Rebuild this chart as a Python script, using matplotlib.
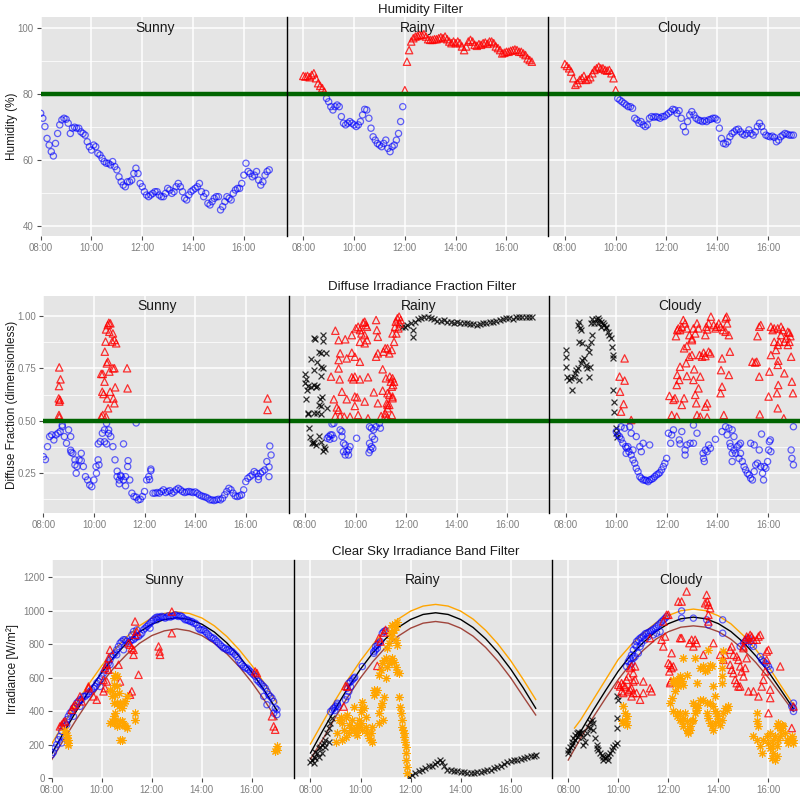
import numpy as np
import matplotlib
matplotlib.use('Agg')
import matplotlib.pyplot as plt

plt.rcParams['font.family'] = ['Liberation Sans', 'DejaVu Sans']

# ---------------------------------------------------------------- categories
days = ['Sunny', 'Rainy', 'Cloudy']
hour_ticks = [8, 10, 12, 14, 16]
hour_labels = ['08:00', '10:00', '12:00', '14:00', '16:00']
row_titles = ['Humidity Filter', 'Diffuse Irradiance Fraction Filter',
              'Clear Sky Irradiance Band Filter']
y_labels = ['Humidity (%)', 'Diffuse Fraction (dimensionless)', 'Irradiance [W/m²]']

# ---------------------------------------------------------------- humidity (5-min samples 08:00-17:00)
t5 = 8 + np.arange(109) * 5 / 60
hum_sunny = [74.2, 72.7, 70.2, 66.6, 64.6, 62.6, 61.3, 65.1, 68.1, 70.7, 72.2, 72.7,
             72.4, 71.2, 68.1, 69.7, 70.0, 69.7, 69.7, 68.6, 68.1, 67.6, 65.6, 64.1,
             63.1, 64.6, 64.1, 62.1, 61.6, 60.6, 59.6, 59.1, 59.1, 58.6, 59.6, 58.1,
             57.1, 55.0, 53.5, 52.5, 52.0, 53.5, 53.5, 54.0, 56.0, 57.6, 56.0, 53.0,
             52.0, 50.5, 49.5, 49.0, 49.5, 50.0, 50.5, 50.5, 49.5, 49.0, 49.0, 50.0,
             51.5, 51.0, 50.0, 50.5, 52.0, 53.0, 52.0, 50.5, 48.5, 48.0, 49.5, 50.5,
             51.0, 51.5, 52.0, 53.0, 50.5, 49.0, 50.0, 47.0, 46.5, 47.5, 48.5, 49.0,
             49.0, 45.0, 46.0, 47.5, 49.0, 48.5, 48.0, 50.0, 51.0, 51.5, 51.5, 53.0,
             55.5, 59.1, 56.6, 56.0, 55.0, 55.5, 56.6, 54.0, 52.5, 53.5, 55.5, 56.6,
             57.1]
hum_rainy = [85.5, 85.3, 85.5, 85.1, 85.8, 86.3, 84.8, 83.3, 82.5, 81.8, 80.7, 78.7,
             77.7, 76.2, 75.2, 76.2, 76.7, 76.2, 73.2, 71.2, 70.7, 71.2, 71.7, 71.2,
             70.7, 70.2, 70.7, 71.7, 73.7, 75.4, 75.2, 72.7, 69.7, 67.1, 66.1, 65.1,
             64.6, 64.1, 65.1, 66.1, 63.6, 62.6, 64.1, 64.6, 66.1, 68.1, 71.7, 76.2,
             81.2, 89.8, 93.3, 95.9, 96.9, 97.4, 97.6, 97.9, 97.9, 98.1, 97.4, 96.6,
             96.4, 96.4, 96.6, 96.6, 96.9, 97.2, 96.9, 97.4, 96.6, 95.9, 95.4, 95.9,
             95.4, 95.9, 95.4, 94.4, 93.3, 94.4, 95.9, 96.4, 95.9, 94.9, 94.6, 95.1,
             94.9, 95.4, 95.6, 95.2, 95.9, 95.9, 95.4, 94.4, 93.9, 93.3, 92.3, 92.5,
             92.8, 92.8, 93.1, 93.3, 93.5, 93.3, 92.8, 92.8, 92.3, 91.8, 90.8, 90.3,
             89.8]
hum_cloudy = [89.1, 88.5, 87.8, 86.8, 84.8, 82.8, 83.3, 84.3, 84.8, 85.5, 84.3, 84.5,
              85.1, 86.3, 87.3, 87.8, 88.3, 87.8, 87.8, 87.3, 87.1, 87.3, 86.3, 84.8,
              81.2, 78.7, 78.2, 77.7, 77.2, 76.7, 76.2, 76.2, 75.7, 72.7, 72.2, 71.2,
              71.7, 70.7, 70.2, 70.7, 72.7, 73.2, 73.0, 73.2, 73.0, 72.7, 73.2, 73.2,
              73.7, 74.2, 74.7, 75.4, 75.2, 74.2, 75.0, 72.7, 70.2, 68.6, 71.7, 73.7,
              74.7, 73.7, 72.7, 72.2, 72.0, 71.7, 72.0, 71.7, 72.2, 72.4, 72.7, 72.7,
              72.2, 69.7, 66.6, 65.1, 64.9, 65.6, 67.1, 68.1, 68.6, 69.2, 69.4, 68.6,
              67.9, 67.6, 68.1, 69.2, 68.1, 67.6, 68.6, 70.2, 71.2, 70.2, 68.6, 67.6,
              67.3, 67.1, 67.3, 66.9, 65.6, 66.1, 67.1, 67.6, 68.1, 67.9, 67.6, 67.6,
              67.6]
hum_limit = 80

# ---------------------------------------------------------------- diffuse fraction
df_sunny_blue = [0.329, 0.315, 0.377, 0.425, 0.433, 0.409, 0.433, 0.441, 0.449, 0.472, 0.425, 0.393,
                 0.457, 0.425, 0.345, 0.314, 0.282, 0.314, 0.345, 0.282, 0.234, 0.218, 0.194, 0.186,
                 0.218, 0.282, 0.314, 0.401, 0.441, 0.457, 0.488, 0.457, 0.425, 0.377, 0.314, 0.234,
                 0.218, 0.234, 0.218, 0.234, 0.282, 0.218, 0.155, 0.139, 0.136, 0.123, 0.126, 0.139,
                 0.163, 0.218, 0.234, 0.262, 0.155, 0.155, 0.158, 0.155, 0.163, 0.171, 0.158, 0.163,
                 0.167, 0.155, 0.161, 0.171, 0.178, 0.171, 0.163, 0.158, 0.161, 0.163, 0.161, 0.158,
                 0.161, 0.155, 0.147, 0.142, 0.139, 0.136, 0.131, 0.123, 0.123, 0.120, 0.123, 0.126,
                 0.123, 0.131, 0.147, 0.163, 0.178, 0.171, 0.155, 0.142, 0.139, 0.142, 0.147, 0.171,
                 0.210, 0.226, 0.234, 0.242, 0.258, 0.250, 0.234, 0.250, 0.258, 0.266, 0.306, 0.234,
                 0.337]
df_sunny_blue_extra = [(8.75, 0.48), (9.08, 0.36), (9.25, 0.29), (9.5, 0.31), (10.17, 0.39),
                       (10.42, 0.40), (10.58, 0.44), (10.92, 0.26), (11.0, 0.20), (11.17, 0.39),
                       (11.25, 0.19), (11.67, 0.49), (12.25, 0.27), (16.95, 0.38), (16.92, 0.28),
                       (16.5, 0.22), (9.1, 0.35), (9.3, 0.25), (10.1, 0.25), (10.2, 0.29),
                       (10.5, 0.39), (11.05, 0.24), (11.35, 0.31), (12.2, 0.22)]
df_sunny_red = [(8.63, 0.755), (8.68, 0.698), (8.62, 0.666), (8.61, 0.607), (8.63, 0.592),
                (8.66, 0.600), (8.62, 0.528), (8.63, 0.517), (10.29, 0.724), (10.35, 0.724),
                (10.33, 0.639), (10.38, 0.628), (10.42, 0.687), (10.43, 0.830), (10.46, 0.878),
                (10.48, 0.936), (10.55, 0.957), (10.59, 0.968), (10.65, 0.965), (10.61, 0.925),
                (10.52, 0.607), (10.48, 0.520), (10.29, 0.520), (10.35, 0.528), (10.55, 0.782),
                (10.51, 0.774), (10.61, 0.735), (10.64, 0.639), (10.56, 0.560), (10.75, 0.917),
                (10.72, 0.878), (10.81, 0.886), (10.88, 0.870), (10.75, 0.751), (10.81, 0.751),
                (10.77, 0.607), (10.81, 0.584), (10.84, 0.660), (11.31, 0.751), (11.33, 0.655),
                (16.86, 0.607), (16.86, 0.552)]

df_rainy_black = [(8.36, 0.893), (8.40, 0.889), (8.71, 0.909), (8.71, 0.882), (8.55, 0.829),
                  (8.62, 0.825), (8.85, 0.822), (8.23, 0.793), (8.49, 0.782), (8.36, 0.742),
                  (8.62, 0.755), (8.71, 0.750), (8.65, 0.714), (8.00, 0.722), (8.04, 0.698),
                  (8.00, 0.679), (8.10, 0.666), (8.23, 0.663), (8.36, 0.671), (8.43, 0.660),
                  (8.49, 0.666), (8.08, 0.647), (8.68, 0.612), (8.59, 0.603), (8.04, 0.603),
                  (8.55, 0.576), (8.62, 0.571), (8.88, 0.560), (8.13, 0.539), (8.13, 0.531),
                  (8.34, 0.536), (8.49, 0.536), (8.62, 0.533), (8.17, 0.465), (8.21, 0.425),
                  (8.30, 0.401), (8.36, 0.393), (8.43, 0.385), (8.55, 0.428), (8.62, 0.401),
                  (8.75, 0.377), (8.81, 0.364), (8.72, 0.358), (8.26, 0.396),
                  (11.85, 0.950), (11.95, 0.950), (12.05, 0.957), (12.20, 0.965), (12.33, 0.973),
                  (12.45, 0.984), (12.58, 0.989), (12.72, 0.997), (12.85, 0.994), (12.98, 0.989),
                  (13.10, 0.984), (13.23, 0.978), (13.36, 0.978), (13.49, 0.981), (13.62, 0.973),
                  (13.75, 0.973), (13.88, 0.968), (14.01, 0.970), (14.14, 0.968), (14.27, 0.965),
                  (14.40, 0.965), (14.52, 0.962), (14.65, 0.960), (14.78, 0.957), (14.91, 0.960),
                  (15.04, 0.965), (15.17, 0.968), (15.30, 0.973), (15.43, 0.973), (15.56, 0.978),
                  (15.69, 0.981), (15.82, 0.984), (15.95, 0.989), (16.07, 0.989), (16.20, 0.984),
                  (16.33, 0.994), (16.46, 0.997), (16.59, 0.997), (16.72, 0.997), (16.85, 0.997),
                  (16.98, 0.995), (12.28, 0.933), (12.28, 0.901)]
df_rainy_red = [(9.20, 0.930), (9.33, 0.885), (9.59, 0.889), (9.85, 0.909), (10.01, 0.941),
                (10.10, 0.949), (10.17, 0.933), (10.23, 0.917), (10.30, 0.968), (10.36, 0.973),
                (10.40, 0.957), (10.45, 0.949), (10.36, 0.909), (10.17, 0.877), (10.36, 0.870),
                (10.45, 0.885), (10.81, 0.981), (10.84, 0.933), (10.88, 0.901), (11.17, 0.846),
                (11.26, 0.846), (11.43, 0.838), (11.52, 0.877), (11.46, 0.917), (11.56, 0.949),
                (11.59, 0.973), (11.65, 0.989), (11.72, 0.997), (11.74, 0.965), (11.78, 0.981),
                (11.69, 0.941), (11.61, 0.917), (9.39, 0.822), (9.33, 0.790), (9.65, 0.798),
                (9.85, 0.825), (9.97, 0.806), (10.17, 0.782), (10.88, 0.822), (10.81, 0.806),
                (11.33, 0.822), (11.10, 0.830), (9.33, 0.750), (9.03, 0.711), (9.37, 0.698),
                (9.85, 0.708), (9.97, 0.711), (10.17, 0.698), (10.49, 0.708), (9.91, 0.698),
                (11.07, 0.746), (11.20, 0.703), (11.35, 0.711), (11.46, 0.703), (11.52, 0.687),
                (11.48, 0.671), (11.43, 0.663), (11.39, 0.687), (9.46, 0.639), (9.97, 0.616),
                (10.06, 0.612), (9.14, 0.603), (9.65, 0.603), (10.72, 0.636), (11.07, 0.644),
                (11.26, 0.632), (11.33, 0.624), (11.46, 0.616), (11.23, 0.584), (11.26, 0.576),
                (11.33, 0.576), (11.46, 0.608), (9.26, 0.564), (9.33, 0.552), (9.97, 0.571),
                (10.36, 0.592), (10.88, 0.584), (11.26, 0.560), (9.20, 0.523), (9.39, 0.523),
                (9.78, 0.520), (10.10, 0.528), (9.55, 0.520), (11.01, 0.523), (11.17, 0.536),
                (11.43, 0.528), (11.16, 0.520), (10.49, 0.512), (11.26, 0.517)]
df_rainy_blue = [(9.14, 0.488), (9.39, 0.457), (9.46, 0.449), (9.01, 0.433), (8.94, 0.425),
                 (8.88, 0.417), (8.98, 0.412), (9.07, 0.433), (9.14, 0.417), (9.46, 0.425),
                 (9.52, 0.393), (9.59, 0.385), (9.52, 0.353), (9.65, 0.353), (9.72, 0.361),
                 (9.78, 0.377), (9.72, 0.337), (9.59, 0.337), (10.04, 0.417), (10.55, 0.472),
                 (10.62, 0.465), (10.71, 0.457), (10.81, 0.472), (10.94, 0.488), (10.98, 0.465),
                 (10.66, 0.425), (10.75, 0.412), (10.55, 0.393), (10.62, 0.377), (10.58, 0.361),
                 (10.53, 0.348), (10.68, 0.369), (9.07, 0.485)]

df_cloudy_black = [(8.00, 0.838), (8.00, 0.806), (8.03, 0.758), (8.07, 0.711), (8.13, 0.695),
                   (8.20, 0.703), (8.27, 0.647), (8.33, 0.711), (8.37, 0.727), (8.40, 0.743),
                   (8.47, 0.751), (8.53, 0.695), (8.60, 0.774), (8.66, 0.790), (8.73, 0.798),
                   (8.80, 0.766), (8.86, 0.751), (8.93, 0.711), (8.90, 0.854), (8.93, 0.830),
                   (8.96, 0.758), (9.00, 0.877), (9.06, 0.909), (9.13, 0.965), (9.20, 0.984),
                   (9.26, 0.989), (9.33, 0.981), (9.40, 0.973), (9.46, 0.965), (9.53, 0.957),
                   (9.60, 0.941), (9.66, 0.925), (9.73, 0.909), (9.80, 0.893), (9.84, 0.854),
                   (9.86, 0.814), (9.89, 0.798), (8.47, 0.957), (8.53, 0.973), (8.56, 0.941),
                   (8.60, 0.933), (8.64, 0.870), (8.53, 0.877), (9.89, 0.647), (9.93, 0.592),
                   (9.93, 0.544), (9.97, 0.465), (9.99, 0.441), (10.02, 0.425), (9.26, 0.965),
                   (9.40, 0.949), (9.60, 0.949), (9.06, 0.984), (9.00, 0.965)]
df_cloudy_red = [(10.33, 0.798), (10.13, 0.711), (10.33, 0.692), (10.15, 0.639), (10.29, 0.580),
                 (10.19, 0.544), (10.59, 0.504), (12.10, 0.619), (12.19, 0.528), (12.26, 0.600),
                 (12.32, 0.608), (12.39, 0.671), (12.41, 0.719), (12.49, 0.695), (12.52, 0.758),
                 (12.59, 0.576), (12.68, 0.608), (12.79, 0.714), (12.89, 0.806), (12.76, 0.775),
                 (12.99, 0.814), (13.05, 0.695), (13.08, 0.746), (13.12, 0.624), (13.16, 0.584),
                 (13.25, 0.655), (13.32, 0.711), (13.29, 0.814), (13.39, 0.806), (13.45, 0.825),
                 (13.52, 0.809), (13.59, 0.584), (13.72, 0.822), (13.65, 0.830), (13.52, 0.909),
                 (13.59, 0.936), (13.65, 0.965), (13.74, 0.997), (13.85, 0.957), (13.92, 0.941),
                 (13.98, 0.949), (14.05, 0.965), (14.12, 0.949), (14.32, 0.989), (14.38, 0.965),
                 (14.45, 0.909), (14.36, 0.997), (14.22, 0.933), (14.32, 0.925), (14.49, 0.830),
                 (14.18, 0.798), (14.14, 0.742), (14.18, 0.663), (14.12, 0.632), (14.45, 0.719),
                 (13.19, 0.965), (13.25, 0.941), (13.12, 0.917), (12.99, 0.893), (12.89, 0.909),
                 (12.79, 0.941), (12.72, 0.965), (12.65, 0.981), (12.59, 0.949), (12.52, 0.933),
                 (12.41, 0.933), (12.36, 0.904), (12.68, 0.846), (12.39, 0.520), (13.19, 0.528),
                 (13.32, 0.520), (13.59, 0.517), (14.25, 0.528), (12.79, 0.857), (12.99, 0.885),
                 (13.05, 0.941), (13.56, 0.949), (12.45, 0.941), (13.52, 0.568), (15.38, 0.782),
                 (15.55, 0.782), (15.65, 0.711), (15.71, 0.957), (15.65, 0.949), (15.58, 0.904),
                 (16.11, 0.949), (16.18, 0.933), (16.24, 0.941), (16.38, 0.941), (16.51, 0.949),
                 (16.58, 0.933), (16.78, 0.925), (16.84, 0.920), (16.88, 0.904), (16.71, 0.893),
                 (16.64, 0.877), (16.78, 0.862), (16.24, 0.877), (16.38, 0.862), (16.31, 0.838),
                 (16.11, 0.814), (16.40, 0.787), (16.38, 0.767), (16.44, 0.877), (16.84, 0.877),
                 (16.91, 0.806), (16.05, 0.735), (16.40, 0.671), (16.35, 0.632), (16.98, 0.632),
                 (16.64, 0.727), (16.94, 0.687), (16.02, 0.616), (16.38, 0.560), (15.67, 0.531),
                 (16.62, 0.512), (15.49, 0.778), (16.51, 0.909)]
df_cloudy_blue = [(10.00, 0.449), (10.06, 0.433), (10.13, 0.425), (10.19, 0.412), (10.26, 0.393),
                  (10.37, 0.377), (10.42, 0.369), (10.50, 0.353), (10.59, 0.337), (10.66, 0.314),
                  (10.73, 0.298), (10.79, 0.274), (10.86, 0.258), (10.93, 0.234), (10.99, 0.226),
                  (11.06, 0.218), (11.13, 0.218), (11.19, 0.215), (11.26, 0.210), (11.32, 0.218),
                  (11.39, 0.221), (11.46, 0.226), (11.52, 0.234), (11.59, 0.242), (11.66, 0.247),
                  (11.72, 0.253), (11.79, 0.266), (11.86, 0.282), (11.92, 0.298), (11.99, 0.321),
                  (10.19, 0.472), (10.33, 0.465), (10.53, 0.472), (10.59, 0.441), (10.79, 0.425),
                  (10.93, 0.377), (10.99, 0.353), (11.06, 0.393), (11.32, 0.385), (10.39, 0.345),
                  (10.46, 0.377), (10.66, 0.361), (12.06, 0.441), (12.19, 0.433), (12.15, 0.393),
                  (12.26, 0.457), (12.49, 0.409), (12.52, 0.390), (12.59, 0.449), (12.72, 0.361),
                  (12.72, 0.337), (12.79, 0.385), (12.92, 0.393), (13.05, 0.393), (13.05, 0.480),
                  (13.19, 0.441), (13.43, 0.345), (13.45, 0.321), (13.48, 0.306), (13.52, 0.361),
                  (13.59, 0.353), (13.65, 0.385), (13.72, 0.369), (13.92, 0.412), (14.18, 0.449),
                  (14.32, 0.472), (14.45, 0.465), (14.49, 0.393), (14.52, 0.377), (14.58, 0.345),
                  (14.58, 0.306), (14.65, 0.361), (14.72, 0.345), (14.78, 0.377), (14.85, 0.321),
                  (14.91, 0.345), (14.98, 0.306), (15.05, 0.282), (15.11, 0.266), (15.18, 0.250),
                  (15.25, 0.242), (15.31, 0.226), (15.38, 0.218), (15.45, 0.258), (15.51, 0.290),
                  (15.58, 0.298), (15.71, 0.282), (15.78, 0.250), (15.82, 0.218), (15.85, 0.282),
                  (15.91, 0.274), (15.98, 0.306), (16.02, 0.361), (16.09, 0.409), (16.05, 0.401),
                  (16.11, 0.353), (15.31, 0.393), (15.45, 0.385), (15.65, 0.361), (15.74, 0.437),
                  (14.91, 0.393), (14.85, 0.385), (14.65, 0.425), (14.38, 0.433), (16.91, 0.361),
                  (16.94, 0.321), (17.00, 0.290), (17.00, 0.472), (14.58, 0.457)]
df_limit = 0.5

# ---------------------------------------------------------------- clear-sky band curves (30-min samples)
t30 = 8 + np.arange(19) * 0.5
cs_sunny_mid = [146, 279, 405, 524, 632, 727, 808, 873, 920, 948, 958, 948, 920, 873, 808, 727, 632, 524, 405]
cs_sunny_hi = [206, 330, 452, 566, 672, 765, 845, 910, 957, 984, 993, 984, 957, 910, 846, 766, 673, 567, 450]
cs_sunny_lo = [111, 235, 355, 468, 570, 662, 740, 805, 852, 880, 892, 880, 852, 805, 743, 665, 572, 466, 350]
cs_rainy_mid = [151, 287, 418, 540, 652, 750, 833, 900, 948, 978, 988, 978, 948, 900, 833, 750, 652, 540, 418]
cs_rainy_hi = [205, 337, 468, 590, 702, 800, 883, 950, 998, 1028, 1038, 1028, 998, 950, 883, 800, 702, 590, 470]
cs_rainy_lo = [115, 235, 366, 488, 600, 698, 781, 848, 896, 926, 936, 926, 896, 848, 781, 698, 600, 488, 378]
cs_cloudy_mid = [150, 280, 407, 526, 640, 735, 811, 876, 923, 952, 962, 952, 923, 876, 811, 730, 635, 526, 415]
cs_cloudy_hi_t = [8.25, 8.5, 9.0, 9.5, 10.0, 10.5, 11.0, 11.5, 12.0, 12.5, 13.0, 13.5, 14.0, 14.5,
                  15.0, 15.5, 16.0, 16.5, 17.0]
cs_cloudy_hi = [300, 350, 470, 590, 710, 795, 866, 928, 972, 1000, 1010, 1000, 970, 922, 852, 768, 667, 552, 439]
cs_cloudy_lo = [109, 240, 365, 480, 590, 685, 765, 830, 875, 902, 910, 902, 875, 830, 768, 690, 600, 500, 399]

# ---------------------------------------------------------------- irradiance points
t4 = 8 + np.arange(136) / 15
irr_sunny_blue = [141, 155, 181, 201, 230, 250, 280, 310, 330, 350, 370, 389, 399, 419, 429, 449, 459, 469, 469, 489,
                  489, 499, 505, 519, 529, 538, 548, 568, 578, 588, 608, 628, 648, 668, 688, 707, 727, 737, 747, 767,
                  787, 807, 817, 827, 827, 817, 807, 817, 827, 827, 837, 846, 846, 856, 866, 886, 896, 906, 916, 926,
                  936, 946, 956, 962, 962, 962, 966, 962, 956, 962, 970, 962, 966, 970, 976, 970, 966, 970, 966, 956,
                  946, 946, 942, 936, 936, 926, 926, 916, 896, 886, 886, 886, 876, 866, 856, 846, 837, 837, 827, 817,
                  807, 797, 787, 777, 777, 767, 767, 757, 757, 747, 737, 727, 707, 688, 678, 668, 658, 658, 648, 638,
                  628, 618, 608, 588, 578, 568, 558, 548, 538, 519, 499, 489, 479, 459, 419, 409]
irr_sunny_blue_extra = [(8.40, 211), (8.60, 320), (8.87, 370), (9.13, 429), (9.93, 548), (10.33, 678),
                        (10.60, 737), (10.87, 767), (11.20, 856), (11.27, 876), (11.40, 886), (11.93, 896),
                        (12.20, 946), (16.47, 489), (16.60, 439), (16.87, 389), (17.00, 380)]
irr_sunny_red = [(8.33, 310), (8.40, 320), (8.47, 334), (8.53, 340), (8.80, 409), (8.87, 429), (8.93, 439),
                 (9.13, 489), (9.20, 459), (9.47, 548), (9.47, 538), (9.67, 489), (9.80, 469), (10.07, 519),
                 (10.13, 538), (10.20, 578), (10.27, 648), (10.33, 767), (10.27, 717), (10.20, 678),
                 (10.13, 658), (10.07, 588), (10.67, 678), (10.73, 578), (11.13, 499), (11.20, 519),
                 (11.27, 737), (11.33, 856), (11.40, 876), (11.47, 618), (11.20, 777), (11.27, 767),
                 (11.13, 797), (11.07, 807), (11.33, 936), (12.27, 787), (12.31, 757), (12.33, 737),
                 (12.80, 995), (12.80, 866), (16.13, 638), (16.20, 628), (16.80, 370), (16.87, 310),
                 (16.93, 290)]
irr_sunny_orange = [(8.53, 290), (8.60, 260), (8.60, 230), (8.67, 211), (8.67, 201), (8.60, 240), (8.53, 270),
                    (8.67, 230), (10.33, 330), (10.40, 340), (10.47, 370), (10.53, 389), (10.60, 449),
                    (10.53, 499), (10.60, 548), (10.47, 598), (10.53, 618), (10.40, 489), (10.47, 449),
                    (10.67, 509), (10.73, 449), (10.80, 419), (10.87, 449), (10.93, 459), (11.00, 489),
                    (10.33, 529), (10.40, 519), (10.47, 558), (10.60, 608), (10.67, 429), (10.73, 340),
                    (10.80, 340), (10.87, 320), (10.93, 310), (11.00, 300), (10.73, 230), (10.80, 230),
                    (10.67, 320), (10.47, 330), (10.53, 350), (10.60, 310), (11.33, 389), (11.33, 350),
                    (17.00, 191), (17.00, 171), (16.93, 161)]

irr_rainy_black = [(8.00, 100), (8.07, 109), (8.13, 129), (8.20, 159), (8.27, 149), (8.33, 179), (8.40, 189),
                   (8.47, 199), (8.53, 209), (8.60, 229), (8.67, 269), (8.73, 299), (8.80, 328), (8.87, 358),
                   (8.20, 119), (8.13, 90), (8.33, 129), (8.47, 149), (8.60, 189), (8.73, 219),
                   (11.92, 8), (12.06, 22), (12.19, 32), (12.32, 42), (12.46, 52), (12.59, 62), (12.73, 72),
                   (12.86, 76), (12.99, 87), (13.06, 95), (13.17, 111), (13.26, 95), (13.33, 72), (13.46, 52),
                   (13.60, 48), (13.73, 46), (13.86, 42), (14.00, 38), (14.13, 36), (14.26, 32), (14.40, 32),
                   (14.53, 32), (14.67, 36), (14.80, 38), (14.93, 42), (15.07, 48), (15.20, 52), (15.34, 60),
                   (15.47, 68), (15.60, 76), (15.74, 87), (15.87, 95), (16.01, 101), (16.14, 107),
                   (16.27, 111), (16.41, 115), (16.54, 121), (16.67, 127), (16.81, 131), (16.94, 135),
                   (17.01, 141)]
irr_rainy_blue = [(8.80, 398), (8.87, 408), (8.93, 418), (9.00, 428), (9.07, 438), (8.97, 404), (9.07, 448),
                  (9.11, 428), (9.47, 537), (9.53, 567), (9.60, 577), (9.67, 587), (9.73, 597), (9.77, 603),
                  (9.60, 547), (9.53, 517), (9.47, 488), (9.40, 468), (10.07, 667), (10.53, 746),
                  (10.60, 766), (10.60, 786), (10.67, 796), (10.73, 806), (10.80, 816), (10.67, 776),
                  (10.87, 866), (10.93, 876), (11.00, 882), (10.53, 756)]
irr_rainy_red = [(9.33, 428), (9.40, 551), (9.47, 547), (10.67, 671), (10.73, 836), (10.80, 816),
                 (11.00, 886), (10.93, 870)]
irr_rainy_orange = [(9.00, 219), (9.07, 269), (9.13, 348), (9.20, 368), (9.27, 328), (9.33, 289), (9.40, 249),
                    (9.40, 368), (9.47, 378), (9.53, 318), (9.60, 299), (9.67, 348), (9.73, 289), (9.80, 269),
                    (9.87, 259), (9.93, 308), (10.00, 328), (10.07, 428), (10.13, 418), (10.20, 368),
                    (10.27, 269), (10.33, 239), (10.40, 229), (10.47, 219), (10.53, 498), (10.60, 517),
                    (10.67, 527), (10.73, 388), (10.80, 428), (10.87, 448), (10.93, 488), (11.00, 597),
                    (11.07, 667), (11.13, 687), (11.20, 706), (11.27, 716), (11.33, 697), (11.40, 667),
                    (11.47, 637), (11.53, 627), (11.00, 716), (11.07, 776), (11.13, 806), (11.20, 836),
                    (11.27, 866), (11.33, 886), (11.40, 905), (11.47, 935), (11.27, 915), (11.20, 876),
                    (11.40, 826), (11.47, 796), (10.73, 617), (10.80, 647), (10.87, 687), (10.93, 706),
                    (10.53, 527), (10.07, 458), (10.00, 398), (9.73, 428), (9.27, 229), (9.53, 269),
                    (9.80, 289), (10.07, 289), (10.20, 308), (10.40, 269), (10.47, 308), (9.87, 318),
                    (9.93, 348), (10.73, 328), (10.89, 348), (11.53, 488), (11.56, 428), (11.60, 388),
                    (11.64, 348), (11.67, 308), (11.69, 289), (11.73, 269), (11.73, 249), (11.77, 219),
                    (11.80, 189), (11.80, 149), (11.83, 109), (11.84, 70), (11.87, 30)]

irr_cloudy_black = [(8.00, 169), (8.07, 189), (8.13, 219), (8.20, 239), (8.27, 259), (8.33, 269), (8.40, 279),
                    (8.47, 269), (8.53, 279), (8.60, 249), (8.67, 219), (8.73, 269), (8.80, 308), (8.87, 338),
                    (8.93, 348), (8.97, 328), (9.00, 289), (9.07, 239), (9.13, 199), (9.20, 169), (9.27, 149),
                    (9.33, 139), (9.40, 129), (9.47, 119), (9.53, 129), (9.60, 139), (9.67, 149), (9.73, 169),
                    (9.80, 189), (9.87, 199), (9.93, 209), (8.00, 149), (8.13, 199), (8.27, 229), (8.40, 249),
                    (8.60, 199), (8.87, 299), (9.13, 179), (9.40, 109), (9.60, 109), (9.93, 299), (9.93, 358),
                    (10.00, 468), (9.96, 492)]
irr_cloudy_blue = [(10.33, 667), (10.40, 697), (10.47, 716), (10.53, 736), (10.60, 766), (10.67, 796),
                   (10.73, 816), (10.80, 826), (10.87, 836), (10.93, 842), (11.00, 850), (11.07, 862),
                   (11.13, 866), (11.20, 870), (11.27, 876), (11.33, 882), (11.40, 890), (11.47, 896),
                   (11.53, 905), (11.60, 915), (11.67, 925), (11.73, 935), (11.80, 945), (11.87, 955),
                   (11.93, 965), (10.73, 786), (10.80, 746), (10.60, 716), (10.53, 687), (10.47, 677),
                   (10.67, 726), (10.93, 806), (10.87, 786), (11.40, 856), (11.53, 866), (11.67, 876),
                   (11.20, 846), (11.07, 826), (12.53, 999), (12.53, 956), (13.00, 956), (13.53, 946),
                   (13.60, 916), (14.17, 946), (14.17, 866), (14.87, 787), (15.00, 807), (15.07, 817),
                   (15.13, 827), (15.20, 837), (15.27, 817), (15.33, 797), (15.40, 787), (15.67, 727),
                   (15.73, 707), (15.80, 697), (15.87, 688), (15.93, 678), (16.00, 668), (16.07, 648),
                   (17.00, 449), (17.00, 419), (17.00, 399), (16.93, 429)]
irr_cloudy_red = [(10.00, 558), (10.07, 548), (10.13, 568), (10.20, 558), (10.27, 548), (10.13, 519),
                  (10.20, 509), (10.40, 519), (10.47, 529), (10.53, 538), (10.33, 588), (10.40, 608),
                  (10.60, 578), (10.67, 588), (10.47, 658), (10.53, 668), (10.60, 628), (10.67, 668),
                  (10.53, 489), (10.60, 509), (10.73, 509), (11.00, 578), (11.00, 509), (11.27, 538),
                  (11.33, 519), (10.87, 469), (11.27, 837), (11.73, 827), (11.80, 787), (11.87, 846),
                  (11.80, 936), (11.93, 976), (12.00, 976), (12.13, 747), (12.00, 688), (12.07, 678),
                  (12.13, 658), (12.20, 668), (12.04, 638), (12.09, 578), (12.07, 568), (12.47, 837),
                  (12.53, 837), (12.40, 1055), (12.53, 1055), (12.73, 1115), (12.84, 807), (12.93, 827),
                  (13.00, 787), (13.07, 827), (13.13, 807), (13.40, 737), (13.47, 1045), (13.53, 1095),
                  (13.56, 1055), (13.60, 1035), (13.67, 1015), (13.60, 976), (13.60, 936), (13.80, 807),
                  (14.07, 737), (14.20, 707), (14.27, 737), (14.47, 767), (14.53, 787), (14.47, 678),
                  (14.53, 648), (14.60, 737), (14.73, 727), (14.80, 707), (14.87, 668), (14.93, 638),
                  (15.00, 787), (15.07, 827), (15.13, 846), (15.20, 837), (15.27, 856), (15.33, 846),
                  (15.40, 827), (15.53, 827), (15.60, 846), (15.67, 856), (14.60, 628), (14.67, 588),
                  (14.73, 568), (14.80, 548), (14.87, 548), (15.00, 608), (15.07, 658), (15.13, 717),
                  (15.00, 777), (15.20, 519), (15.40, 519), (15.60, 489), (15.73, 548), (15.80, 588),
                  (15.87, 638), (15.93, 707), (15.93, 757), (16.00, 767), (16.00, 389), (16.07, 479),
                  (16.07, 529), (16.93, 300), (17.00, 429), (16.47, 668)]
irr_cloudy_orange = [(10.20, 429), (10.27, 389), (10.33, 370), (10.31, 340), (10.20, 330), (10.36, 320),
                     (10.13, 340), (12.07, 449), (12.13, 479), (12.27, 519), (12.33, 568), (12.20, 588),
                     (12.33, 588), (12.47, 598), (12.53, 578), (12.60, 558), (12.20, 568), (12.40, 548),
                     (12.47, 608), (12.60, 717), (12.73, 618), (13.07, 717), (13.13, 568), (13.27, 658),
                     (13.40, 668), (13.47, 638), (13.53, 648), (13.60, 767), (13.67, 678), (13.73, 668),
                     (13.80, 548), (13.87, 489), (14.13, 658), (14.13, 608), (14.13, 568), (14.13, 707),
                     (14.20, 757), (12.20, 399), (12.33, 370), (12.47, 350), (12.53, 340), (12.60, 360),
                     (12.67, 389), (12.73, 340), (12.80, 280), (12.87, 310), (12.93, 340), (13.00, 449),
                     (13.07, 429), (13.13, 419), (13.20, 439), (13.27, 469), (13.40, 469), (13.53, 449),
                     (13.67, 449), (13.80, 429), (13.87, 399), (13.93, 370), (14.00, 340), (14.07, 320),
                     (14.13, 350), (14.20, 389), (14.27, 419), (14.33, 409), (14.40, 429), (13.53, 389),
                     (13.60, 360), (13.67, 330), (13.73, 310), (13.80, 290), (13.87, 330), (13.93, 389),
                     (12.47, 389), (12.73, 290), (12.80, 270), (12.87, 290), (12.33, 389), (12.60, 310),
                     (13.00, 350), (13.07, 389), (13.13, 409), (15.53, 389), (15.53, 340), (15.60, 310),
                     (15.40, 250), (15.53, 230), (15.67, 191), (15.80, 230), (15.93, 250), (16.07, 270),
                     (16.13, 191), (16.20, 151), (16.27, 111), (16.33, 131), (16.36, 191), (16.40, 230),
                     (16.47, 250), (16.49, 290), (16.53, 320), (16.60, 310), (16.67, 270), (16.73, 230),
                     (16.80, 211), (16.87, 240), (16.93, 250), (17.00, 230), (17.00, 211), (16.20, 230),
                     (16.27, 250), (16.07, 181), (16.13, 121), (16.33, 310), (16.40, 330), (16.47, 300),
                     (15.73, 151), (16.00, 211)]

# ---------------------------------------------------------------- layout
W, H = 800, 795
fig = plt.figure(figsize=(W / 100, H / 100), dpi=100)
xlims = [(8.0, 17.70), (7.36, 17.65), (7.35, 17.26)]

rows_px = [(40.7, 16.7, 235.7), (43.3, 295.7, 513.3), (51.7, 560.0, 778.3)]
ylims = [(37.2, 103.4), (0.059, 1.097), (0, 1303)]
yticks = [[40, 60, 80, 100], [0.25, 0.50, 0.75, 1.00], [0, 200, 400, 600, 800, 1000, 1200]]
yticklabels = [['40', '60', '80', '100'], ['0.25', '0.50', '0.75', '1.00'],
               ['0', '200', '400', '600', '800', '1000', '1200']]
yminor = [[50, 70, 90], [0.125, 0.375, 0.625, 0.875], []]
label_y = [100, 1.048, 1184]
title_y = [10, 287.5, 552.5]
ylabel_x = [12, 12, 13]

BLUE = dict(marker='o', s=20, facecolors='none', edgecolors=(0, 0, 1, 0.6), linewidths=0.9, zorder=3)
RED = dict(marker='^', s=28, facecolors='none', edgecolors=(1, 0, 0, 0.8), linewidths=0.9, zorder=3)
BLACK = dict(marker='x', s=18, c=[(0, 0, 0, 0.8)], linewidths=0.9, zorder=3)
ORANGE = dict(marker=(8, 2, 0), s=28, c='orange', linewidths=0.8, zorder=3)


def pts(ax, pairs, style):
    if len(pairs):
        a = np.array(pairs, dtype=float)
        ax.scatter(a[:, 0], a[:, 1], **style)


def make_row(r):
    left, top, bottom = rows_px[r]
    total = sum(b - a for a, b in xlims)
    width = W - left
    axes = []
    x = left
    for i, (a, b) in enumerate(xlims):
        w = width * (b - a) / total
        ax = fig.add_axes([x / W, 1 - bottom / H, w / W, (bottom - top) / H])
        x += w
        ax.set_facecolor('#E5E5E5')
        ax.set_xlim(a, b)
        ax.set_ylim(*ylims[r])
        for s in ax.spines.values():
            s.set_visible(False)
        if i > 0:
            ax.spines['left'].set_visible(True)
            ax.spines['left'].set_color('black')
            ax.spines['left'].set_linewidth(1.0)
            ax.spines['left'].set_zorder(5)
        ax.set_xticks(hour_ticks)
        ax.set_xticklabels(hour_labels)
        ax.set_yticks(yticks[r])
        ax.set_yticks(yminor[r], minor=True)
        ax.grid(which='major', color='white', linewidth=1.1)
        ax.grid(which='minor', color='white', linewidth=0.55)
        ax.set_axisbelow(True)
        ax.tick_params(which='major', length=3, width=0.8, color='#4D4D4D',
                       labelsize=7, labelcolor='#7F7F7F', pad=2)
        ax.tick_params(which='minor', length=0)
        if i == 0:
            ax.set_yticklabels(yticklabels[r])
        else:
            ax.tick_params(axis='y', which='both', left=False, labelleft=False)
        ax.text(12.5, label_y[r], days[i], ha='center', va='center', fontsize=10, color='#1A1A1A', zorder=6)
        axes.append(ax)
    fig.text((left + W) / 2 / W, 1 - title_y[r] / H, row_titles[r], ha='center', va='center',
             fontsize=9.5, color='#1A1A1A')
    fig.text(ylabel_x[r] / W, 1 - (top + bottom) / 2 / H, y_labels[r], rotation=90,
             ha='center', va='center', fontsize=8.5, color='#1A1A1A')
    return axes


# ---- row 1: humidity
ax_h = make_row(0)
for ax, vals in zip(ax_h, [hum_sunny, hum_rainy, hum_cloudy]):
    v = np.array(vals)
    hi = v > hum_limit
    ax.scatter(t5[~hi], v[~hi], **BLUE)
    ax.scatter(t5[hi], v[hi], **RED)
    ax.axhline(hum_limit, color='#006400', linewidth=3.2, zorder=4)

# ---- row 2: diffuse fraction
ax_d = make_row(1)
ax_d[0].scatter(t5, df_sunny_blue, **BLUE)
pts(ax_d[0], df_sunny_blue_extra, BLUE)
pts(ax_d[0], df_sunny_red, RED)
pts(ax_d[1], df_rainy_black, BLACK)
pts(ax_d[1], df_rainy_red, RED)
pts(ax_d[1], df_rainy_blue, BLUE)
pts(ax_d[2], df_cloudy_black, BLACK)
pts(ax_d[2], df_cloudy_red, RED)
pts(ax_d[2], df_cloudy_blue, BLUE)
for ax in ax_d:
    ax.axhline(df_limit, color='#006400', linewidth=3.2, zorder=4)

# ---- row 3: clear sky band
ax_i = make_row(2)
curves = [(t30, cs_sunny_hi, t30, cs_sunny_mid, cs_sunny_lo),
          (t30, cs_rainy_hi, t30, cs_rainy_mid, cs_rainy_lo),
          (cs_cloudy_hi_t, cs_cloudy_hi, t30, cs_cloudy_mid, cs_cloudy_lo)]
for ax, (th, hi, tm, mid, lo) in zip(ax_i, curves):
    ax.plot(th, hi, color='orange', linewidth=1.0, zorder=2)
    ax.plot(tm, mid, color='black', linewidth=1.0, zorder=2)
    ax.plot(tm, lo, color='#A0453C', linewidth=1.0, zorder=2)

ax_i[0].scatter(t4, irr_sunny_blue, **BLUE)
pts(ax_i[0], irr_sunny_blue_extra, BLUE)
pts(ax_i[0], irr_sunny_red, RED)
pts(ax_i[0], irr_sunny_orange, ORANGE)
pts(ax_i[1], irr_rainy_black, BLACK)
pts(ax_i[1], irr_rainy_blue, BLUE)
pts(ax_i[1], irr_rainy_red, RED)
pts(ax_i[1], irr_rainy_orange, ORANGE)
pts(ax_i[2], irr_cloudy_black, BLACK)
pts(ax_i[2], irr_cloudy_blue, BLUE)
pts(ax_i[2], irr_cloudy_red, RED)
pts(ax_i[2], irr_cloudy_orange, ORANGE)

fig.savefig('out.png', dpi=100)
